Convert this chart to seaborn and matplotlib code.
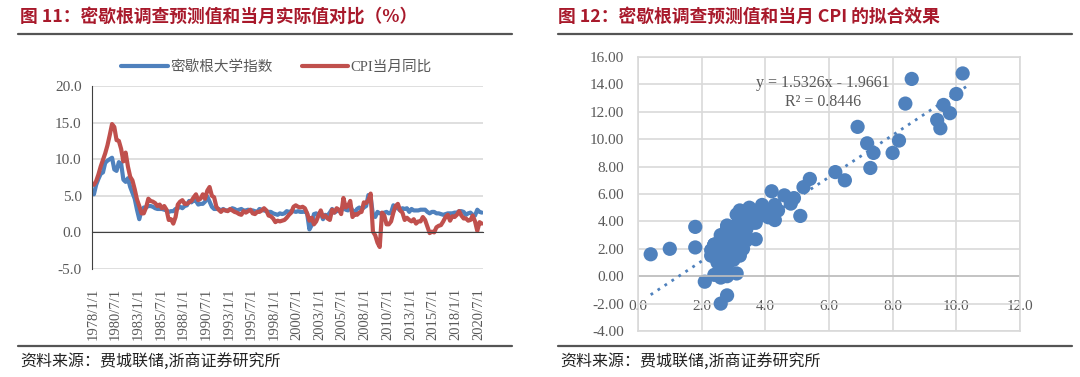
import numpy as np
import pandas as pd
import matplotlib
matplotlib.use('Agg')
import matplotlib.pyplot as plt
from matplotlib.lines import Line2D
import seaborn as sns

sns.set_style('white')
plt.rcParams['font.family'] = ['Liberation Serif', 'Noto Sans CJK SC', 'DejaVu Sans']
plt.rcParams['axes.unicode_minus'] = False

# 季度数据 1978Q1 - 2020Q4
michigan = [
    5.2, 6.5, 7.3, 8.0,   # 1978
    8.2, 9.5, 9.8, 10.0,  # 1979
    10.2, 8.6, 8.4, 9.6,  # 1980
    9.4, 7.2, 6.9, 7.4,   # 1981
    6.2, 5.4, 4.6, 3.1,   # 1982
    1.8, 3.0, 3.4, 3.4,   # 1983
    3.6, 3.6, 3.5, 3.3,   # 1984
    3.2, 3.2, 3.2, 3.1,   # 1985
    3.0, 2.8, 2.9, 2.9,   # 1986
    3.2, 3.3, 3.5, 3.3,   # 1987
    3.6, 3.7, 4.3, 4.1,   # 1988
    4.4, 4.3, 3.8, 3.9,   # 1989
    3.9, 4.2, 4.9, 4.2,   # 1990
    3.5, 3.2, 3.2, 3.2,   # 1991
    3.0, 3.2, 3.0, 3.0,   # 1992
    3.1, 3.3, 3.2, 3.0,   # 1993
    3.1, 3.2, 3.0, 3.0,   # 1994
    3.1, 3.0, 3.0, 2.9,   # 1995
    2.8, 3.2, 3.1, 3.0,   # 1996
    2.9, 2.8, 2.8, 2.6,   # 1997
    2.5, 2.4, 2.6, 2.5,   # 1998
    2.6, 2.9, 2.8, 2.9,   # 1999
    2.9, 2.8, 2.9, 2.8,   # 2000
    2.8, 2.9, 2.6, 0.4,   # 2001
    1.0, 2.5, 2.6, 2.4,   # 2002
    2.6, 1.8, 2.4, 2.3,   # 2003
    2.7, 3.2, 2.7, 2.9,   # 2004
    3.0, 2.9, 3.7, 3.1,   # 2005
    3.0, 3.5, 3.0, 2.7,   # 2006
    3.2, 3.4, 3.1, 3.4,   # 2007
    3.6, 5.1, 4.8, 2.4,   # 2008
    2.1, 2.8, 2.6, 2.6,   # 2009
    2.7, 2.8, 2.6, 2.7,   # 2010
    3.7, 3.4, 3.3, 3.0,   # 2011
    3.3, 3.2, 3.3, 2.8,   # 2012
    3.2, 3.0, 3.0, 3.0,   # 2013
    3.1, 3.1, 3.1, 2.8,   # 2014
    2.6, 2.8, 2.8, 2.6,   # 2015
    2.6, 2.5, 2.4, 2.5,   # 2016
    2.6, 2.6, 2.6, 2.7,   # 2017
    2.7, 2.9, 2.9, 2.8,   # 2018
    2.4, 2.6, 2.7, 2.4,   # 2019
    2.3, 3.1, 2.8, 2.7,   # 2020
]
cpi = [
    6.5, 7.0, 7.9, 9.0,
    9.9, 10.8, 11.9, 13.3,
    14.8, 14.4, 12.6, 12.5,
    11.4, 9.7, 10.9, 9.0,
    7.6, 7.1, 5.9, 4.5,
    3.6, 2.6, 2.6, 3.4,
    4.6, 4.3, 4.2, 4.0,
    3.6, 3.8, 3.3, 3.6,
    3.1, 1.7, 1.8, 1.2,
    2.1, 3.8, 4.2, 4.4,
    3.9, 3.9, 4.1, 4.3,
    4.8, 5.2, 4.4, 4.6,
    5.2, 4.6, 5.7, 6.2,
    5.0, 4.8, 3.5, 3.1,
    2.8, 3.1, 3.0, 2.9,
    3.2, 3.0, 2.8, 2.7,
    2.5, 2.4, 2.9, 2.7,
    2.9, 3.1, 2.6, 2.5,
    2.8, 2.8, 3.0, 3.3,
    3.0, 2.3, 2.2, 1.9,
    1.4, 1.6, 1.5, 1.6,
    1.7, 2.0, 2.4, 2.7,
    3.5, 3.7, 3.5, 3.4,
    3.5, 3.3, 2.6, 1.6,
    2.0, 1.1, 1.5, 2.3,
    3.0, 2.1, 2.3, 1.9,
    1.7, 3.1, 2.7, 3.3,
    3.1, 2.5, 4.7, 3.4,
    3.6, 4.3, 2.1, 2.5,
    2.4, 2.7, 2.8, 4.1,
    4.0, 4.4, 5.3, 0.1,
    -0.4, -1.4, -2.0, 2.7,
    2.3, 1.1, 1.1, 1.5,
    2.7, 3.6, 3.9, 3.0,
    2.7, 1.7, 2.0, 1.7,
    1.5, 1.8, 1.2, 1.5,
    1.5, 2.1, 1.7, 0.8,
    -0.1, 0.1, 0.0, 0.7,
    0.9, 1.0, 1.5, 2.1,
    2.4, 1.6, 2.2, 2.1,
    2.4, 2.9, 2.3, 1.9,
    1.9, 1.6, 1.7, 2.3,
    1.5, 0.2, 1.4, 1.2,
]
dates = pd.date_range('1978-01-01', periods=len(cpi), freq='QS') + pd.Timedelta(days=45)

tick_dates = pd.date_range('1978-01-01', '2020-07-01', freq='30MS')
tick_labels = [f'{d.year}/{d.month}/1' for d in tick_dates]

slope, intercept = 1.5326, -1.9661
eq_text = 'y = 1.5326x - 1.9661'
r2_text = 'R² = 0.8446'

blue = '#4F81BD'
red = '#C0504D'
title_red = '#A8192B'
grid_c = '#D9D9D9'
text_c = '#595959'
cjk = ['Noto Sans CJK SC', 'DejaVu Sans']

fig = plt.figure(figsize=(10.8, 3.77), dpi=100)

# ---------- 图 11 ----------
ax1 = fig.add_axes([0.0852, 0.2865, 0.362, 0.4854])
sns.lineplot(x=dates, y=michigan, ax=ax1, color=blue, lw=3, label='密歇根大学指数')
sns.lineplot(x=dates, y=cpi, ax=ax1, color=red, lw=3, label='CPI当月同比')
ax1.set_ylim(-5, 20)
ax1.set_yticks(np.arange(-5, 20.1, 5))
ax1.set_yticklabels([f'{v:.1f}' for v in np.arange(-5, 20.1, 5)])
ax1.set_xlim(pd.Timestamp('1977-12-01'), pd.Timestamp('2020-12-31'))
ax1.set_xticks(tick_dates)
ax1.set_xticklabels(tick_labels)
ax1.grid(axis='y', color=grid_c, lw=1.2)
ax1.set_axisbelow(True)
for s in ['top', 'right']:
    ax1.spines[s].set_visible(False)
ax1.spines['bottom'].set_position(('data', 0))
ax1.spines['bottom'].set_color('#404040')
ax1.spines['left'].set_color('#404040')
ax1.tick_params(axis='x', direction='out', length=4, color='#404040', pad=36,
                labelsize=10.5, labelcolor=text_c, labelrotation=90)
ax1.tick_params(axis='y', direction='out', length=4, color='#404040',
                labelsize=11, labelcolor=text_c)
ax1.set_xlabel('')
leg = ax1.legend(loc='center', bbox_to_anchor=(0.256, 0.822), bbox_transform=fig.transFigure,
                 ncol=2, frameon=False, handlelength=3.2, handletextpad=0.15,
                 columnspacing=2.0, prop={'family': ['Liberation Serif', 'Noto Sans CJK SC'], 'size': 10.5})
for t in leg.get_texts():
    t.set_color(text_c)

# ---------- 图 12 ----------
ax2 = fig.add_axes([0.5907, 0.122, 0.3537, 0.7268])
sns.scatterplot(x=michigan, y=cpi, ax=ax2, color=blue, s=105, edgecolor='none', alpha=1)
xs = np.array([min(michigan), max(michigan) + 0.2])
ax2.plot(xs, slope * xs + intercept, color=blue, ls=(0, (1, 2)), lw=2)
ax2.set_xlim(0, 12)
ax2.set_ylim(-4, 16)
ax2.set_xticks(np.arange(0, 12.1, 2))
ax2.set_xticklabels([f'{v:.1f}' for v in np.arange(0, 12.1, 2)])
ax2.set_yticks(np.arange(-4, 16.1, 2))
ax2.set_yticklabels([f'{v:.2f}' for v in np.arange(-4, 16.1, 2)])
ax2.grid(True, color=grid_c, lw=1.2)
ax2.set_axisbelow(True)
for s in ax2.spines.values():
    s.set_color(grid_c)
    s.set_linewidth(1.2)
ax2.axhline(0, color='#BFBFBF', lw=1.2, zorder=1)
ax2.tick_params(axis='both', length=0, labelsize=11, labelcolor=text_c)
ax2.tick_params(axis='x', pad=-22)
ax2.tick_params(axis='y', pad=10)
ax2.text(5.8, 14.1, eq_text, ha='center', va='center', fontsize=11.5, color=text_c)
ax2.text(5.8, 12.7, r2_text, ha='center', va='center', fontsize=11.5, color=text_c)

# ---------- 标题、分隔线、来源 ----------
fig.text(20 / 1080, 1 - 17 / 377, '图 11：密歇根调查预测值和当月实际值对比（%）', family=cjk,
         fontsize=12.8, weight='bold', color=title_red, va='center')
fig.text(558 / 1080, 1 - 17 / 377, '图 12：密歇根调查预测值和当月 CPI 的拟合效果', family=cjk,
         fontsize=12.8, weight='bold', color=title_red, va='center')
for x0, x1 in [(18, 512), (558, 1072)]:
    fig.add_artist(Line2D([x0 / 1080, x1 / 1080], [1 - 34 / 377] * 2, color='#555555', lw=1.6))
    fig.add_artist(Line2D([x0 / 1080, x1 / 1080], [1 - 346 / 377] * 2, color='#555555', lw=1.6))
fig.text(20 / 1080, 1 - 361 / 377, '资料来源：费城联储,浙商证券研究所', family=cjk,
         fontsize=11.5, color='#222222', va='center')
fig.text(560 / 1080, 1 - 361 / 377, '资料来源：费城联储,浙商证券研究所', family=cjk,
         fontsize=11.5, color='#222222', va='center')

fig.savefig('out.png', dpi=100)
